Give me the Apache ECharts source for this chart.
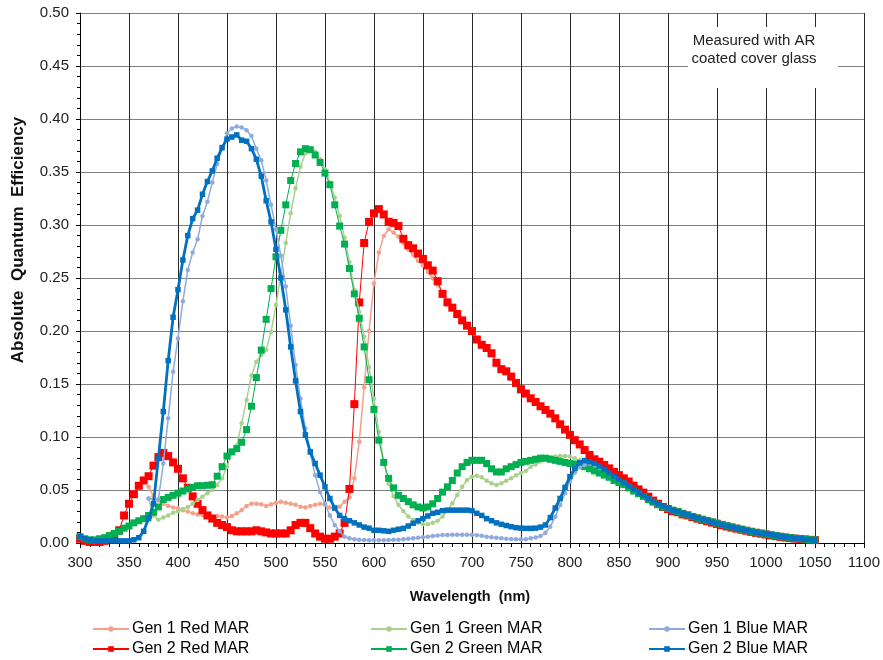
<!DOCTYPE html>
<html>
<head>
<meta charset="utf-8">
<script src="https://cdn.jsdelivr.net/npm/echarts@6/dist/echarts.min.js"></script>
<style>
html,body{margin:0;padding:0;background:#fff;}
#chart{width:883px;height:660px;}
</style>
</head>
<body>
<div id="chart"></div>
<script>
// ---- Data (wavelength in nm, absolute QE) ----
const wavelengths = [
  300,305,310,315,320,325,330,335,340,345,
  350,355,360,365,370,375,380,385,390,395,
  400,405,410,415,420,425,430,435,440,445,
  450,455,460,465,470,475,480,485,490,495,
  500,505,510,515,520,525,530,535,540,545,
  550,555,560,565,570,575,580,585,590,595,
  600,605,610,615,620,625,630,635,640,645,
  650,655,660,665,670,675,680,685,690,695,
  700,705,710,715,720,725,730,735,740,745,
  750,755,760,765,770,775,780,785,790,795,
  800,805,810,815,820,825,830,835,840,845,
  850,855,860,865,870,875,880,885,890,895,
  900,905,910,915,920,925,930,935,940,945,
  950,955,960,965,970,975,980,985,990,995,
  1000,1005,1010,1015,1020,1025,1030,1035,1040,1045,
  1050
];

const gen1Red = [
  null,null,null,null,null,null,null,null,null,null,
  null,null,null,null,0.053,0.044,0.040,0.037,0.035,0.0336,
  0.0327,0.031,0.0296,0.028,0.027,0.0264,0.0258,0.0255,0.0255,0.025,
  0.024,0.0255,0.028,0.031,0.035,0.037,0.037,0.0365,0.035,0.0365,
  0.038,0.039,0.038,0.037,0.036,0.0343,0.0336,0.035,0.036,0.037,
  0.036,0.0336,0.0327,0.0343,0.039,0.043,0.061,0.0956,0.147,0.200,
  0.245,0.274,0.2896,0.296,0.293,0.289,0.283,0.277,0.272,0.266,
  0.262,0.256,0.2497,0.2434,0.236,0.229,0.222,0.216,0.210,0.205,
  0.200,0.193,0.188,0.184,0.178,0.171,0.165,0.161,0.156,0.151,
  0.145,0.140,0.136,0.132,0.128,0.124,0.121,0.117,0.112,0.107,
  0.102,0.097,0.092,0.087,0.083,0.079,0.076,0.073,0.070,0.067,
  0.064,0.061,0.058,0.054,0.051,0.048,0.044,0.041,0.038,0.035,
  0.0325,0.0305,0.029,0.0275,0.026,0.0245,0.0232,0.022,0.0207,0.0195,
  0.0183,0.0171,0.0159,0.0148,0.0137,0.0127,0.0117,0.0107,0.0098,0.009,
  0.0082,0.0074,0.0067,0.006,0.0053,0.0047,0.0042,0.0038,0.0034,0.0031,
  0.0028
];

const gen2Red = [
  0.004,0.002,0.001,0.001,0.001,0.002,0.004,0.007,0.012,0.026,
  0.037,0.046,0.054,0.059,0.063,0.073,0.081,0.085,0.082,0.076,
  0.070,0.061,0.052,0.044,0.037,0.031,0.026,0.023,0.019,0.017,
  0.015,0.012,0.011,0.011,0.011,0.011,0.012,0.011,0.010,0.009,
  0.009,0.009,0.009,0.012,0.017,0.019,0.019,0.014,0.009,0.006,
  0.004,0.004,0.006,0.009,0.019,0.051,0.131,0.227,0.283,0.303,
  0.311,0.315,0.310,0.303,0.302,0.299,0.287,0.281,0.278,0.273,
  0.268,0.262,0.257,0.247,0.235,0.227,0.222,0.216,0.210,0.205,
  0.200,0.192,0.187,0.184,0.179,0.170,0.164,0.162,0.157,0.151,
  0.145,0.141,0.1365,0.133,0.129,0.1255,0.122,0.1176,0.112,0.107,
  0.102,0.097,0.093,0.0877,0.083,0.079,0.0767,0.0736,0.0704,0.067,
  0.064,0.061,0.058,0.054,0.0506,0.0475,0.0437,0.040,0.037,0.034,
  0.032,0.030,0.029,0.027,0.026,0.0245,0.023,0.0218,0.0205,0.0192,
  0.018,0.0168,0.0156,0.0145,0.0135,0.0125,0.0115,0.0105,0.0096,0.0088,
  0.008,0.0072,0.0065,0.0058,0.0051,0.0046,0.0041,0.0037,0.0033,0.003,
  0.0027
];

const gen1Green = [
  null,null,null,null,null,null,null,null,null,null,
  null,null,null,null,0.042,0.026,0.022,0.024,0.026,0.0286,
  0.030,0.032,0.034,0.037,0.0406,0.0437,0.047,0.050,0.0547,0.061,
  0.072,0.0846,0.092,0.113,0.135,0.158,0.171,0.1774,0.182,0.199,
  0.2245,0.254,0.283,0.311,0.3346,0.355,0.3676,0.372,0.369,0.362,
  0.3525,0.340,0.326,0.3085,0.288,0.265,0.239,0.218,0.1946,0.166,
  0.136,0.105,0.077,0.056,0.044,0.036,0.030,0.025,0.0217,0.019,
  0.0176,0.0176,0.019,0.021,0.025,0.0305,0.0374,0.0453,0.053,0.0594,
  0.0626,0.0635,0.062,0.0588,0.0563,0.0547,0.0563,0.0588,0.061,0.064,
  0.066,0.068,0.072,0.074,0.077,0.079,0.081,0.0815,0.082,0.082,
  0.0815,0.080,0.078,0.076,0.0745,0.0725,0.070,0.067,0.064,0.061,
  0.058,0.0555,0.0525,0.0495,0.047,0.0445,0.0415,0.039,0.0365,0.0345,
  0.033,0.0312,0.0297,0.0282,0.0267,0.0252,0.0238,0.0225,0.0213,0.0201,
  0.0189,0.0177,0.0165,0.0153,0.0142,0.0131,0.0121,0.0111,0.0102,0.0094,
  0.0086,0.0078,0.0071,0.0064,0.0057,0.0051,0.0046,0.0041,0.0037,0.0033,
  0.003
];

const gen2Green = [
  0.006,0.004,0.003,0.003,0.004,0.005,0.007,0.009,0.011,0.014,
  0.016,0.019,0.021,0.023,0.026,0.029,0.034,0.041,0.043,0.045,
  0.047,0.049,0.051,0.0525,0.054,0.054,0.0545,0.055,0.063,0.072,
  0.082,0.086,0.089,0.095,0.107,0.129,0.156,0.182,0.211,0.240,
  0.270,0.295,0.319,0.342,0.358,0.369,0.372,0.371,0.366,0.359,
  0.349,0.338,0.319,0.299,0.282,0.259,0.235,0.212,0.185,0.154,
  0.126,0.097,0.076,0.061,0.052,0.045,0.042,0.039,0.036,0.034,
  0.033,0.034,0.037,0.042,0.048,0.053,0.059,0.066,0.072,0.076,
  0.078,0.078,0.078,0.075,0.070,0.067,0.067,0.070,0.072,0.074,
  0.076,0.077,0.078,0.079,0.080,0.080,0.079,0.078,0.077,0.076,
  0.075,0.0745,0.0735,0.072,0.070,0.068,0.066,0.064,0.062,0.059,
  0.057,0.055,0.052,0.049,0.0465,0.044,0.041,0.0385,0.036,0.034,
  0.0325,0.031,0.0295,0.028,0.0265,0.025,0.0237,0.0224,0.0212,0.020,
  0.0188,0.0176,0.0164,0.0152,0.0141,0.013,0.012,0.011,0.0101,0.0093,
  0.0085,0.0077,0.007,0.0063,0.0056,0.005,0.0045,0.004,0.0036,0.0032,
  0.0029
];

const gen1Blue = [
  null,null,null,null,null,null,null,null,null,null,
  null,null,null,null,0.042,0.041,0.041,0.075,0.1176,0.1616,
  0.193,0.228,0.2575,0.274,0.2865,0.3085,0.322,0.340,0.3575,0.372,
  0.3865,0.391,0.393,0.392,0.3895,0.384,0.372,0.361,0.342,0.319,
  0.296,0.271,0.242,0.205,0.168,0.136,0.108,0.085,0.064,0.048,
  0.037,0.026,0.017,0.011,0.006,0.0045,0.0035,0.003,0.0028,0.0025,
  0.0025,0.0025,0.0025,0.0028,0.003,0.003,0.0035,0.004,0.0045,0.005,
  0.0055,0.006,0.0065,0.007,0.0075,0.0075,0.0078,0.0078,0.0078,0.0078,
  0.0077,0.0072,0.0068,0.006,0.0055,0.005,0.0045,0.004,0.0038,0.0036,
  0.0035,0.0035,0.0044,0.0053,0.0066,0.0097,0.0154,0.0248,0.0358,0.047,
  0.058,0.0664,0.0714,0.0736,0.075,0.0745,0.072,0.069,0.066,0.063,
  0.060,0.057,0.054,0.051,0.048,0.045,0.042,0.0395,0.037,0.035,
  0.033,0.0312,0.0296,0.028,0.0266,0.0252,0.0238,0.0225,0.0212,0.02,
  0.0188,0.0176,0.0164,0.0152,0.0141,0.013,0.012,0.011,0.0101,0.0093,
  0.0085,0.0078,0.0071,0.0064,0.0057,0.0051,0.0046,0.0041,0.0036,0.0032,
  0.0029
];

const gen2Blue = [
  0.006,0.004,0.003,0.002,0.002,0.002,0.002,0.002,0.002,0.002,
  0.002,0.003,0.005,0.011,0.023,0.037,0.080,0.124,0.172,0.213,
  0.239,0.267,0.290,0.306,0.314,0.329,0.341,0.351,0.363,0.373,
  0.381,0.383,0.385,0.380,0.379,0.372,0.362,0.346,0.323,0.303,
  0.277,0.250,0.220,0.185,0.153,0.124,0.102,0.086,0.075,0.064,
  0.053,0.042,0.033,0.026,0.023,0.021,0.019,0.017,0.015,0.014,
  0.012,0.012,0.0115,0.011,0.012,0.013,0.0138,0.016,0.0186,0.021,
  0.023,0.0255,0.028,0.029,0.0305,0.031,0.031,0.031,0.031,0.031,
  0.0305,0.028,0.026,0.023,0.021,0.019,0.0176,0.0165,0.0154,0.0145,
  0.014,0.0138,0.0138,0.014,0.015,0.017,0.024,0.033,0.042,0.0525,
  0.0626,0.0704,0.0758,0.0777,0.0767,0.075,0.0726,0.0695,0.066,0.063,
  0.060,0.057,0.054,0.0506,0.0475,0.0447,0.042,0.039,0.037,0.035,
  0.033,0.031,0.0296,0.028,0.0265,0.025,0.0237,0.0224,0.021,0.0198,
  0.0186,0.0174,0.0162,0.015,0.014,0.013,0.012,0.011,0.010,0.0093,
  0.0085,0.0078,0.0071,0.0064,0.0057,0.005,0.0045,0.004,0.0035,0.0031,
  0.0028
];

const seriesNames = ['Gen 1 Red MAR','Gen 2 Red MAR','Gen 1 Green MAR','Gen 2 Green MAR','Gen 1 Blue MAR','Gen 2 Blue MAR'];
const seriesValues = [gen1Red, gen2Red, gen1Green, gen2Green, gen1Blue, gen2Blue];
const xMin = 300, xMax = 1100, xStep = 50;
const yMin = 0, yMax = 0.5, yStep = 0.05;
const annotationLines = ['Measured with AR', 'coated cover glass'];

// ---- Styles ----
const FONT = '"Liberation Sans", Arial, sans-serif';
const styles = [
  {color:'#F5A08A', symbol:'circle', size:4.5, width:1.5},
  {color:'#FF0000', symbol:'rect',   size:8,   width:1},
  {color:'#A9D18E', symbol:'circle', size:4.5, width:1.5},
  {color:'#00B050', symbol:'rect',   size:7,   width:1},
  {color:'#8FAADC', symbol:'circle', size:4.5, width:1.5},
  {color:'#0070C0', symbol:'rect',   size:5.5, width:2.8}
];

const series = seriesNames.map((name, k) => ({
  name: name,
  type: 'line',
  data: wavelengths.map((w, i) => [w, seriesValues[k][i]]),
  symbol: styles[k].symbol,
  symbolSize: styles[k].size,
  showSymbol: true,
  showAllSymbol: true,
  connectNulls: false,
  lineStyle: {color: styles[k].color, width: styles[k].width},
  itemStyle: {color: styles[k].color, borderWidth: 0},
  emphasis: {disabled: true},
  z: 2 + k
}));

// legends: 3 columns x 2 rows
const legendCols = [92, 370, 648];
const legendRows = [621, 641];
const legendOrder = [[0,2,4],[1,3,5]];
const legends = [];
legendOrder.forEach((row, r) => row.forEach((k, c) => {
  legends.push({
    data: [seriesNames[k]],
    left: legendCols[c],
    top: legendRows[r],
    padding: 0,
    itemWidth: 36,
    itemHeight: 7,
    selectedMode: false,
    textStyle: {fontFamily: FONT, fontSize: 16, color: '#000', padding: [0,0,0,-2]}
  });
}));

const chart = echarts.init(document.getElementById('chart'), null, {renderer: 'canvas'});
chart.setOption({
  animation: false,
  backgroundColor: '#fff',
  grid: {left: 80, right: 19, top: 13, bottom: 117, containLabel: false},
  legend: legends,
  xAxis: {
    type: 'value', min: xMin, max: xMax, interval: xStep,
    axisLine: {show: true, onZero: false, lineStyle: {color: '#000', width: 1}},
    axisTick: {show: true, length: 5, lineStyle: {color: '#000'}},
    minorTick: {show: true, splitNumber: 5, length: 4, lineStyle: {color: '#000'}},
    axisLabel: {fontFamily: FONT, fontSize: 15, color: '#222', margin: 12,
      formatter: v => String(v)},
    splitLine: {show: true, lineStyle: {color: '#2a2a2a', width: 1}}
  },
  yAxis: {
    type: 'value', min: yMin, max: yMax, interval: yStep,
    axisLine: {show: true, lineStyle: {color: '#000', width: 1}},
    axisTick: {show: true, length: 4, lineStyle: {color: '#000'}},
    minorTick: {show: true, splitNumber: 5, length: 3, lineStyle: {color: '#000'}},
    axisLabel: {fontFamily: FONT, fontSize: 15, color: '#222', margin: 11,
      formatter: v => v.toFixed(2)},
    splitLine: {show: true, lineStyle: {color: '#7f7f7f', width: 1}}
  },
  graphic: [
    {type: 'rect', z: 50, shape: {x: 688, y: 27, width: 150, height: 61}, style: {fill: '#fff'}},
    {type: 'text', z: 51, x: 754, y: 50, style: {
      text: annotationLines.join('\n'), font: '15px ' + FONT, fill: '#222',
      align: 'center', verticalAlign: 'middle', lineHeight: 18}},
    {type: 'text', z: 51, x: 18, y: 240, rotation: Math.PI / 2, style: {
      text: 'Absolute  Quantum  Efficiency', font: 'bold 17px ' + FONT, fill: '#111',
      align: 'center', verticalAlign: 'middle'}},
    {type: 'text', z: 51, x: 470, y: 597, style: {
      text: 'Wavelength  (nm)', font: 'bold 14.5px ' + FONT, fill: '#111',
      align: 'center', verticalAlign: 'middle'}}
  ],
  series: series
});
</script>
</body>
</html>
